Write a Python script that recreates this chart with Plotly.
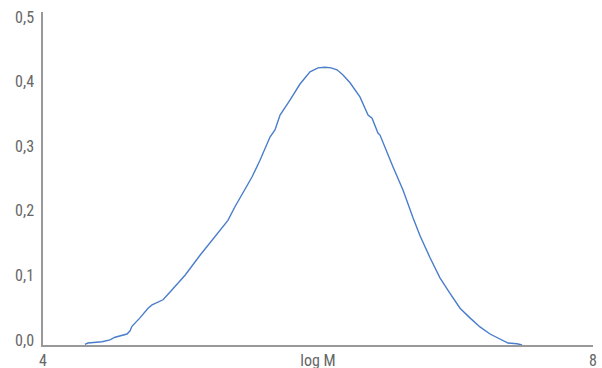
import plotly.graph_objects as go

log_m = [4.305, 4.327, 4.429, 4.487, 4.524, 4.56, 4.611, 4.633, 4.647, 4.705, 4.764, 4.793,
         4.873, 4.924, 5.033, 5.142, 5.215, 5.287, 5.345, 5.396, 5.469, 5.52, 5.578, 5.636,
         5.651, 5.687, 5.724, 5.796, 5.818, 5.869, 5.942, 6.0, 6.051, 6.095, 6.138, 6.182,
         6.233, 6.305, 6.364, 6.393, 6.436, 6.451, 6.545, 6.618, 6.691, 6.742, 6.815, 6.887,
         6.96, 7.033, 7.105, 7.178, 7.251, 7.324, 7.36, 7.382, 7.447, 7.484]
dist = [0.001, 0.003, 0.005, 0.008, 0.012, 0.014, 0.017, 0.022, 0.029, 0.042, 0.057, 0.062,
        0.070, 0.082, 0.108, 0.139, 0.158, 0.178, 0.193, 0.214, 0.240, 0.260, 0.286, 0.313,
        0.322, 0.333, 0.356, 0.379, 0.387, 0.404, 0.423, 0.429, 0.430, 0.429, 0.426, 0.418,
        0.406, 0.384, 0.356, 0.351, 0.328, 0.325, 0.276, 0.240, 0.197, 0.169, 0.135, 0.104,
        0.080, 0.057, 0.042, 0.028, 0.017, 0.009, 0.005, 0.003, 0.002, 0.0]

x_tickvals = [4, 6, 8]
x_ticktext = ["4", "log M", "8"]
y_tickvals = [0.0, 0.1, 0.2, 0.3, 0.4, 0.5]

font_family = "Roboto Condensed, Liberation Sans Narrow, DejaVu Sans Condensed, Roboto, sans-serif"

fig = go.Figure(go.Scatter(x=log_m, y=dist, mode="lines",
                           line=dict(color="#4a7dca", width=1.4), showlegend=False))

fig.update_layout(
    width=602, height=368,
    margin=dict(l=43, r=9, t=12, b=23, autoexpand=False),
    paper_bgcolor="white", plot_bgcolor="white",
    separators=",.",
    font=dict(family=font_family, size=16, color="#666666"),
)
fig.update_xaxes(range=[4, 8], tickvals=x_tickvals, ticktext=x_ticktext, automargin=False,
                 showgrid=False, zeroline=False, showline=True, linecolor="#999999",
                 linewidth=1.5, ticks="", ticklabelstandoff=0)
fig.update_yaxes(range=[0, 0.5155], tickvals=y_tickvals, tickformat=".1f", automargin=False,
                 showgrid=False, zeroline=False, showline=True, linecolor="#999999",
                 linewidth=1.5, ticks="", ticklabelshift=-5, ticklabelstandoff=4)

fig.write_html("out.html")
